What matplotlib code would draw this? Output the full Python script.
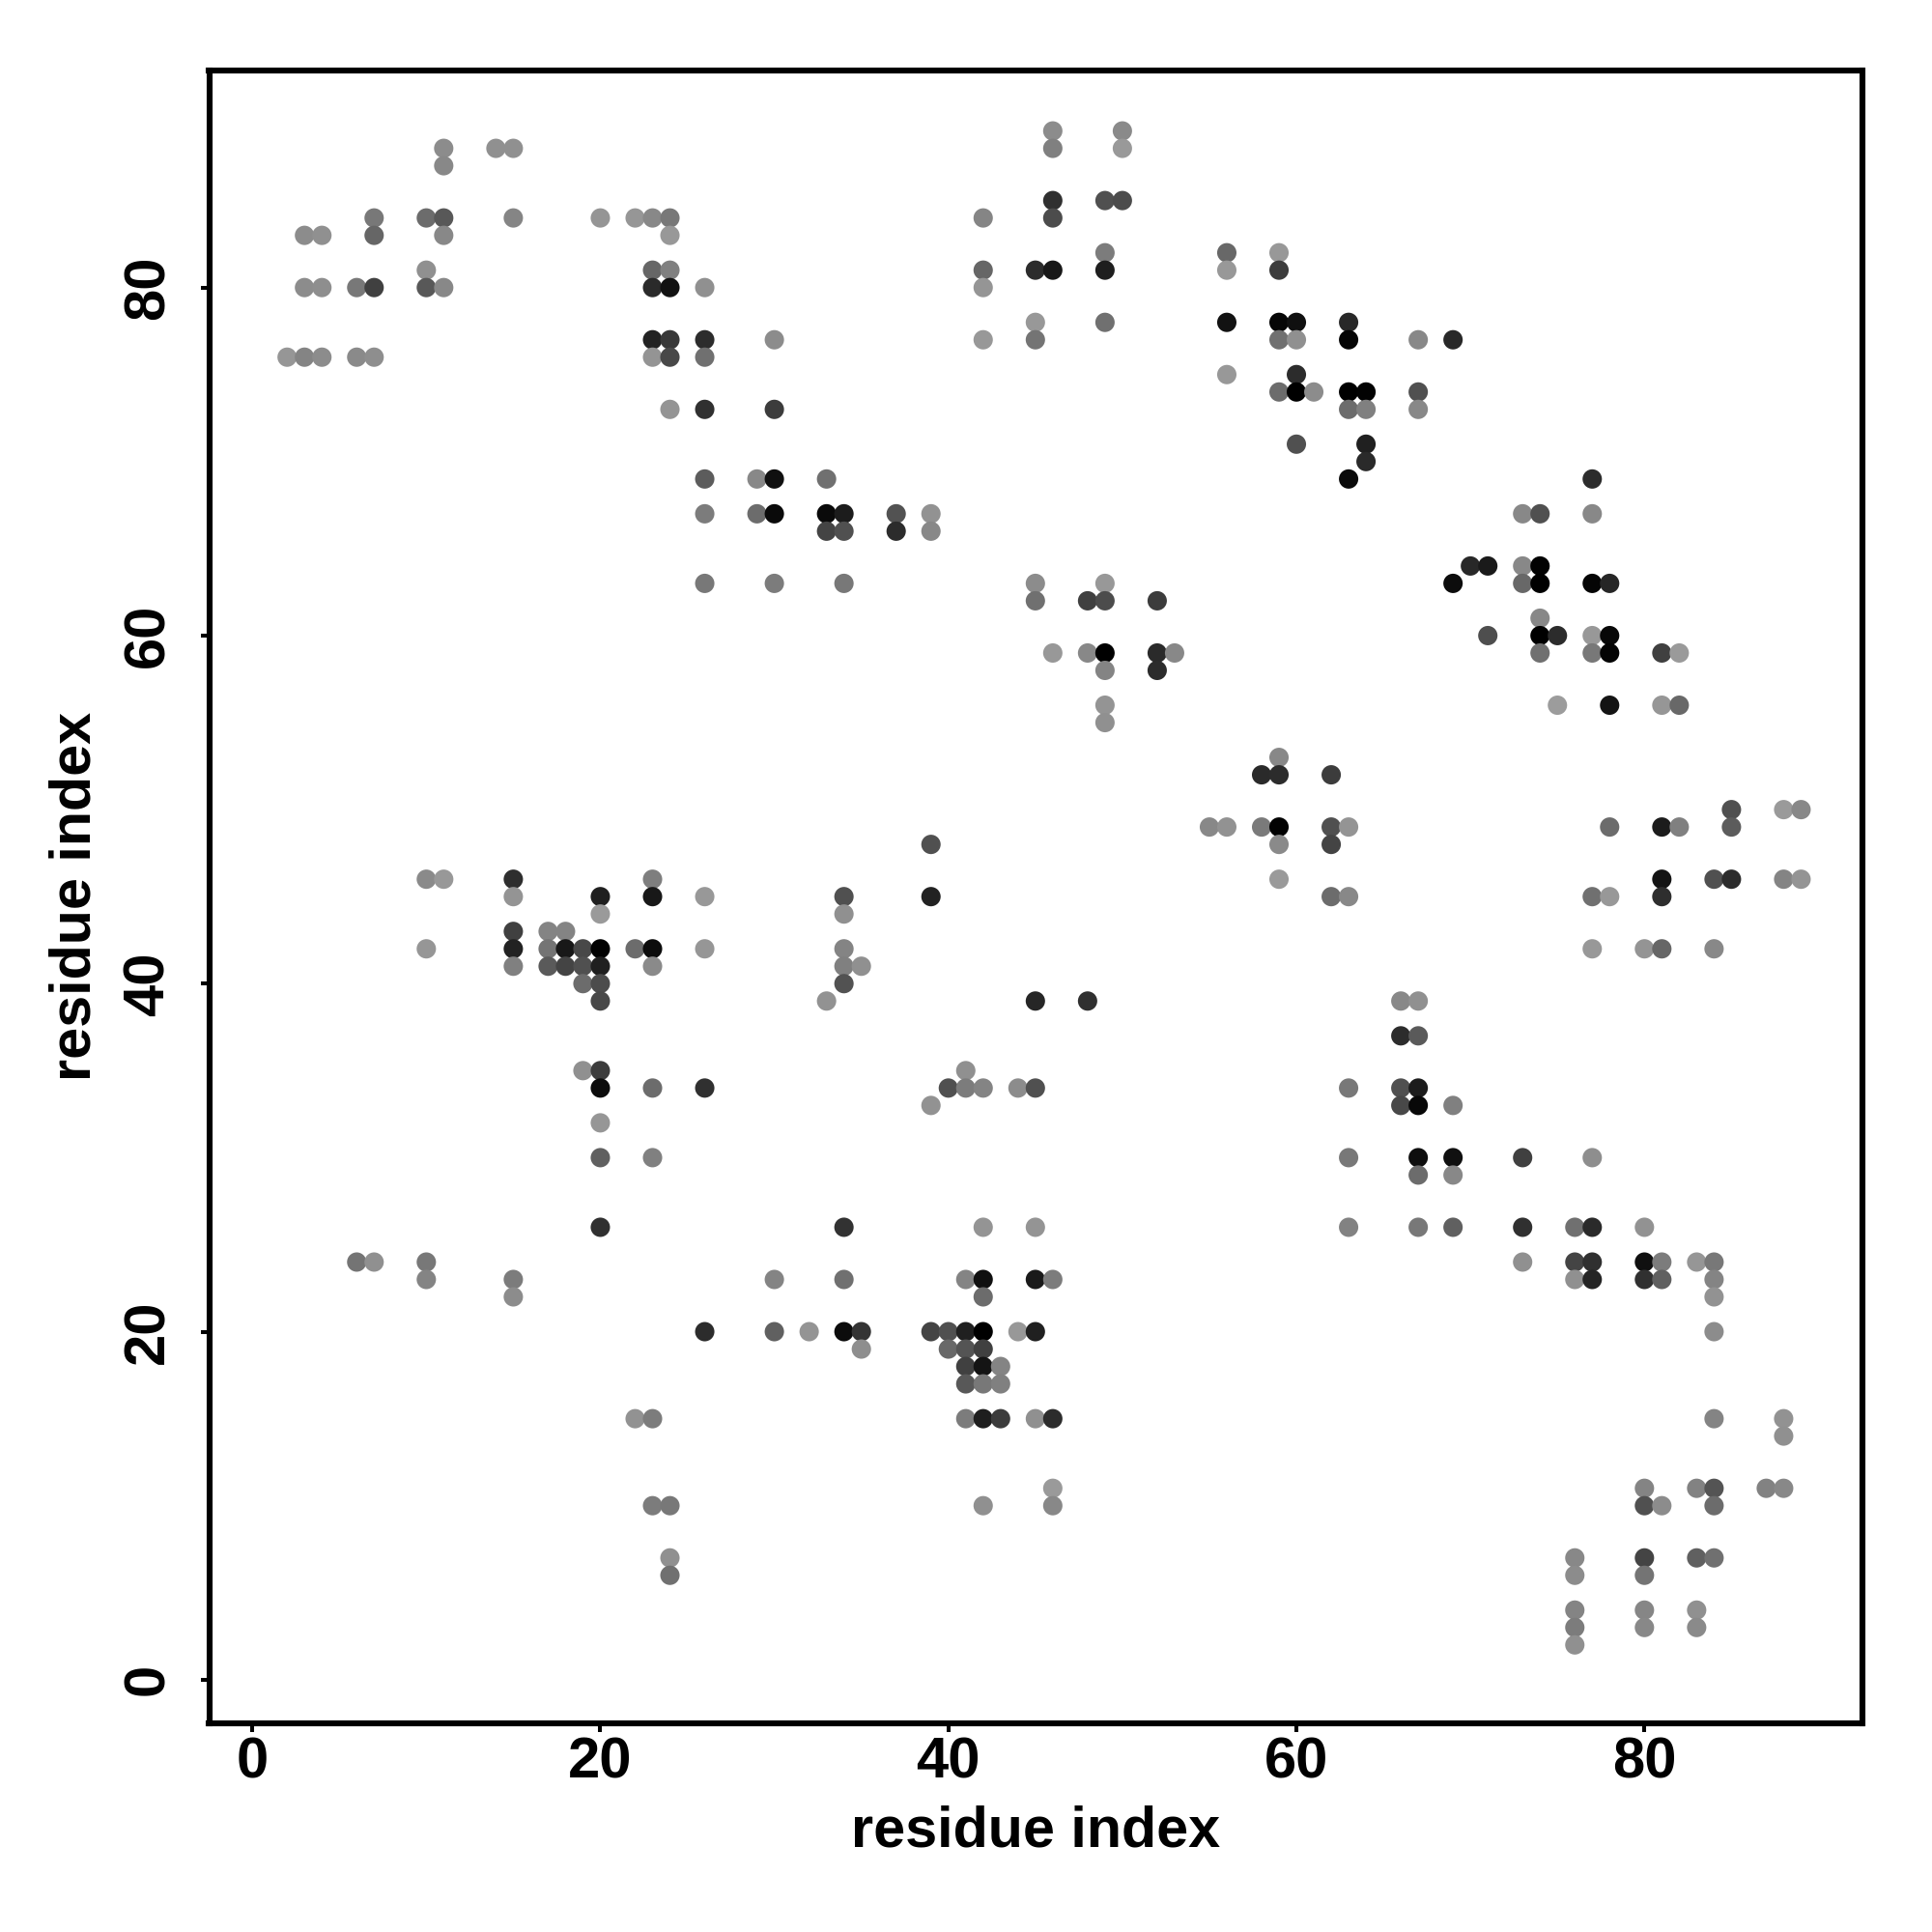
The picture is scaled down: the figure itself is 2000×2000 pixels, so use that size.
"""
Residue contact map, grey level = contact strength.
"""

import numpy as np
import matplotlib
matplotlib.use("Agg")
import matplotlib.pyplot as plt

plt.rcParams["font.family"] = ["Liberation Sans", "DejaVu Sans"]
plt.rcParams["font.weight"] = "bold"

# y value of each row of dots, top to bottom
row_y = [89, 88, 87, 85, 84, 83, 82, 81, 80, 78, 77, 76, 75, 74, 73, 71, 70, 69, 67, 66,
         64, 63, 62, 61, 60, 59, 58, 56, 55, 53, 52, 50, 49, 48, 46, 45, 44, 43, 42, 41,
         40, 39, 37, 35, 34, 33, 32, 30, 29, 26, 24, 23, 22, 20, 19, 18, 17, 15, 14, 11,
         10, 7, 6, 4, 3, 2]

# x values in each row
row_x = [
    [46, 50],
    [11, 14, 15, 46, 50],
    [11],
    [46, 49, 50],
    [7, 10, 11, 15, 20, 22, 23, 24, 42, 46],
    [3, 4, 7, 11, 24],
    [49, 56, 59],
    [10, 23, 24, 42, 45, 46, 49, 56, 59],
    [3, 4, 6, 7, 10, 11, 23, 24, 26, 42],
    [45, 49, 56, 59, 60, 63],
    [23, 24, 26, 30, 42, 45, 59, 60, 63, 67, 69],
    [2, 3, 4, 6, 7, 23, 24, 26],
    [56, 60],
    [59, 60, 61, 63, 64, 67],
    [24, 26, 30, 63, 64, 67],
    [60, 64],
    [64],
    [26, 29, 30, 33, 63, 77],
    [26, 29, 30, 33, 34, 37, 39, 73, 74, 77],
    [33, 34, 37, 39],
    [70, 71, 73, 74],
    [26, 30, 34, 45, 49, 69, 73, 74, 77, 78],
    [45, 48, 49, 52],
    [74],
    [71, 74, 75, 77, 78],
    [46, 48, 49, 52, 53, 74, 77, 78, 81, 82],
    [49, 52],
    [49, 75, 78, 81, 82],
    [49],
    [59],
    [58, 59, 62],
    [85, 88, 89],
    [55, 56, 58, 59, 62, 63, 78, 81, 82, 85],
    [39, 59, 62],
    [10, 11, 15, 23, 59, 81, 84, 85, 88, 89],
    [15, 20, 23, 26, 34, 39, 62, 63, 77, 78, 81],
    [20, 34],
    [15, 17, 18],
    [10, 15, 17, 18, 19, 20, 22, 23, 26, 34, 77, 80, 81, 84],
    [15, 17, 18, 19, 20, 23, 34, 35],
    [19, 20, 34],
    [20, 33, 45, 48, 66, 67],
    [66, 67],
    [19, 20, 41],
    [20, 23, 26, 40, 41, 42, 44, 45, 63, 66, 67],
    [39, 66, 67, 69],
    [20],
    [20, 23, 63, 67, 69, 73, 77],
    [67, 69],
    [20, 34, 42, 45, 63, 67, 69, 73, 76, 77, 80],
    [6, 7, 10, 73, 76, 77, 80, 81, 83, 84],
    [10, 15, 30, 34, 41, 42, 45, 46, 76, 77, 80, 81, 84],
    [15, 42, 84],
    [26, 30, 32, 34, 35, 39, 40, 41, 42, 44, 45, 84],
    [35, 40, 41, 42],
    [41, 42, 43],
    [41, 42, 43],
    [22, 23, 41, 42, 43, 45, 46, 84, 88],
    [88],
    [46, 80, 83, 84, 87, 88],
    [23, 24, 42, 46, 80, 81, 84],
    [24, 76, 80, 83, 84],
    [24, 76, 80],
    [76, 80, 83],
    [76, 80, 83],
    [76],
]

# grey level of each dot, 0-255
row_gray = [
    [0x8c, 0x8a],
    [0x8c, 0x90, 0x90, 0x80, 0x99],
    [0x88],
    [0x30, 0x50, 0x4c],
    [0x78, 0x6c, 0x58, 0x85, 0x95, 0x96, 0x88, 0x78, 0x85, 0x4c],
    [0x8c, 0x90, 0x66, 0x88, 0x98],
    [0x7c, 0x68, 0x98],
    [0x90, 0x66, 0x80, 0x66, 0x2c, 0x18, 0x1e, 0x98, 0x3c],
    [0x8c, 0x8e, 0x78, 0x40, 0x58, 0x88, 0x2a, 0x12, 0x90, 0x95],
    [0x98, 0x70, 0x12, 0x06, 0x10, 0x28],
    [0x22, 0x38, 0x2c, 0x8c, 0x98, 0x74, 0x70, 0x90, 0x05, 0x88, 0x28],
    [0x96, 0x84, 0x8c, 0x8a, 0x8e, 0x94, 0x48, 0x70],
    [0x98, 0x2c],
    [0x6c, 0x00, 0x8c, 0x00, 0x02, 0x50],
    [0x94, 0x30, 0x3c, 0x6c, 0x80, 0x88],
    [0x50, 0x20],
    [0x2a],
    [0x5c, 0x88, 0x10, 0x70, 0x0a, 0x2c],
    [0x7c, 0x6c, 0x0a, 0x0a, 0x1c, 0x52, 0x92, 0x88, 0x50, 0x88],
    [0x44, 0x50, 0x2c, 0x88],
    [0x28, 0x1a, 0x88, 0x02],
    [0x78, 0x7c, 0x78, 0x8c, 0x98, 0x0c, 0x68, 0x00, 0x05, 0x26],
    [0x70, 0x40, 0x4c, 0x3c],
    [0x88],
    [0x4e, 0x00, 0x2c, 0x98, 0x08],
    [0x98, 0x88, 0x00, 0x2a, 0x88, 0x70, 0x78, 0x04, 0x40, 0x9a],
    [0x84, 0x2c],
    [0x94, 0x9c, 0x14, 0x96, 0x68],
    [0x90],
    [0x88],
    [0x2a, 0x2c, 0x3c],
    [0x50, 0x9a, 0x88],
    [0x88, 0x92, 0x7a, 0x02, 0x50, 0x94, 0x6c, 0x1c, 0x80, 0x5c],
    [0x50, 0x8a, 0x44],
    [0x8a, 0x98, 0x2e, 0x7e, 0x9a, 0x14, 0x50, 0x2c, 0x84, 0x94],
    [0x94, 0x20, 0x18, 0x98, 0x50, 0x22, 0x6c, 0x88, 0x70, 0x98, 0x2e],
    [0x9a, 0x90],
    [0x40, 0x84, 0x84],
    [0x96, 0x22, 0x74, 0x18, 0x48, 0x02, 0x6c, 0x0c, 0x96, 0x84, 0x98, 0x94, 0x66, 0x88],
    [0x80, 0x5a, 0x44, 0x50, 0x20, 0x8a, 0x80, 0x90],
    [0x6c, 0x4c, 0x52],
    [0x48, 0x92, 0x26, 0x30, 0x88, 0x90],
    [0x2c, 0x5a],
    [0x90, 0x3c, 0x90],
    [0x0c, 0x6c, 0x30, 0x50, 0x7c, 0x84, 0x8c, 0x50, 0x78, 0x50, 0x1c],
    [0x92, 0x48, 0x08, 0x80],
    [0x96],
    [0x60, 0x80, 0x78, 0x0e, 0x10, 0x40, 0x8e],
    [0x6c, 0x88],
    [0x30, 0x32, 0x94, 0x94, 0x82, 0x78, 0x60, 0x30, 0x70, 0x2a, 0x92],
    [0x74, 0x90, 0x78, 0x90, 0x44, 0x30, 0x10, 0x7c, 0x96, 0x78],
    [0x84, 0x7c, 0x84, 0x70, 0x84, 0x10, 0x1a, 0x7c, 0x90, 0x24, 0x30, 0x60, 0x84],
    [0x8c, 0x6c, 0x92],
    [0x2c, 0x60, 0x94, 0x0c, 0x34, 0x44, 0x50, 0x20, 0x00, 0x98, 0x20, 0x8c],
    [0x8e, 0x68, 0x54, 0x40],
    [0x40, 0x14, 0x84],
    [0x58, 0x78, 0x80],
    [0x92, 0x7c, 0x7c, 0x1e, 0x3c, 0x90, 0x2c, 0x84, 0x92],
    [0x90],
    [0x9a, 0x84, 0x82, 0x54, 0x82, 0x88],
    [0x7c, 0x78, 0x90, 0x88, 0x50, 0x8c, 0x6c],
    [0x90, 0x88, 0x44, 0x60, 0x70],
    [0x70, 0x8c, 0x74],
    [0x84, 0x86, 0x90],
    [0x7c, 0x88, 0x8a],
    [0x90],
]

x = [v for row in row_x for v in row]
y = [row_y[i] for i, row in enumerate(row_x) for _ in row]
gray = np.array([v for row in row_gray for v in row]) / 255.0
colors = [(g, g, g) for g in gray]

fig = plt.figure(figsize=(10, 10), dpi=200)
ax = fig.add_axes([216.5 / 2000, 1 - 1783.5 / 2000, 1711 / 2000, 1711 / 2000])

ax.scatter(x, y, s=52, c=colors, linewidths=0, zorder=2)

ax.set_xlim(-2.48, 92.5)
ax.set_ylim(-2.48, 92.5)
ax.set_xticks([0, 20, 40, 60, 80])
ax.set_yticks([0, 20, 40, 60, 80])
ax.tick_params(axis="x", labelsize=21.5, length=3.1, width=1.45, pad=2)
ax.tick_params(axis="y", labelsize=21.5, length=3.1, width=1.45, pad=9.5)
for t in ax.get_yticklabels():
    t.set_rotation(90)
    t.set_va("center")

ax.set_xlabel("residue index", fontsize=21.4, fontweight="bold", labelpad=5.8)
ax.set_ylabel("residue index", fontsize=21.4, fontweight="bold", labelpad=7.4)

for s in ax.spines.values():
    s.set_linewidth(2.2)

fig.savefig("out.png", dpi=200)
